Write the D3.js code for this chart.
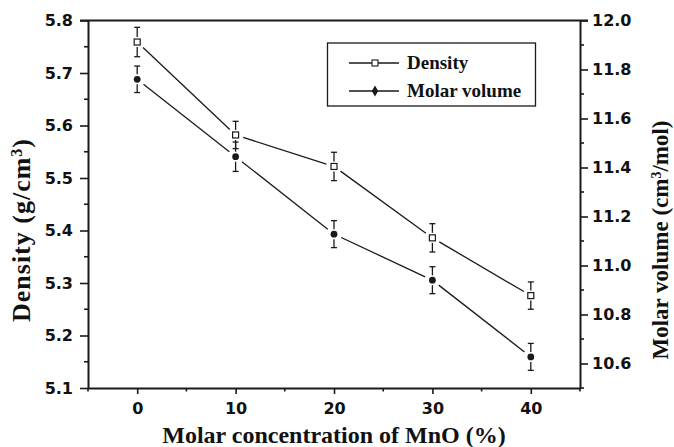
<!DOCTYPE html>
<html>
<head>
<meta charset="utf-8">
<script src="https://cdn.jsdelivr.net/npm/d3@7"></script>
<style>
  html, body { margin: 0; padding: 0; background: #fff; }
  svg { display: block; }
  .tick-label { font-family: "DejaVu Sans", Verdana, sans-serif; font-weight: bold; font-size: 16px; fill: #111; }
  .axis-title { font-family: "Liberation Serif", "Times New Roman", serif; font-weight: bold; font-size: 24px; fill: #111; }
  .legend-text { font-family: "Liberation Serif", "Times New Roman", serif; font-weight: bold; font-size: 19px; fill: #111; }
</style>
</head>
<body>
<svg id="chart" width="674" height="447"></svg>
<script>
// MnO content of the glass series (mol %)
const mnoContent = [0, 10, 20, 30, 40];
// Density (g/cm3) with its uncertainty
const density = [5.759, 5.582, 5.522, 5.386, 5.276];
const densityErr = [0.028, 0.026, 0.027, 0.027, 0.026];
// Molar volume (cm3/mol) with its uncertainty
const molarVolume = [11.76, 11.444, 11.128, 10.94, 10.627];
const molarVolumeErr = [0.054, 0.06, 0.055, 0.055, 0.055];

const xTicks = [0, 10, 20, 30, 40];
const xMinorTicks = [-5, 5, 15, 25, 35, 45];
const leftTicks = [5.1, 5.2, 5.3, 5.4, 5.5, 5.6, 5.7, 5.8];
const leftMinorTicks = [5.15, 5.25, 5.35, 5.45, 5.55, 5.65, 5.75];
const rightTicks = [10.6, 10.8, 11.0, 11.2, 11.4, 11.6, 11.8, 12.0];
const rightMinorTicks = [10.5, 10.7, 10.9, 11.1, 11.3, 11.5, 11.7, 11.9];

const svg = d3.select("#chart");
const plotL = 88, plotR = 580, plotT = 20.5, plotB = 388;

const x = d3.scaleLinear().domain([-5, 45]).range([plotL, plotR]);
const yL = d3.scaleLinear().domain([5.1, 5.8]).range([plotB, plotT]);
const yR = d3.scaleLinear().domain([10.5, 12.0]).range([plotB, plotT]);

const ink = "#1a1a1a";

// Axes
function styleAxis(g) {
  g.selectAll("path.domain").attr("stroke", ink).attr("stroke-width", 2);
  g.selectAll(".tick line").attr("stroke", ink).attr("stroke-width", 1.6);
  g.selectAll(".tick text").attr("class", "tick-label").attr("fill", null);
}

const gx = svg.append("g").attr("transform", `translate(0,${plotB})`)
  .call(d3.axisBottom(x).tickValues(xTicks).tickSize(6).tickPadding(9).tickSizeOuter(0).tickFormat(d3.format("d")));
styleAxis(gx);
gx.append("g").selectAll("line").data(xMinorTicks).join("line")
  .attr("x1", d => x(d)).attr("x2", d => x(d)).attr("y1", 0).attr("y2", 3.5)
  .attr("stroke", ink).attr("stroke-width", 1.6);

const gl = svg.append("g").attr("transform", `translate(${plotL},0)`)
  .call(d3.axisLeft(yL).tickValues(leftTicks).tickSize(8).tickPadding(7).tickSizeOuter(0).tickFormat(d3.format(".1f")));
styleAxis(gl);
gl.append("g").selectAll("line").data(leftMinorTicks).join("line")
  .attr("x1", 0).attr("x2", -4).attr("y1", d => yL(d)).attr("y2", d => yL(d))
  .attr("stroke", ink).attr("stroke-width", 1.6);

const gr = svg.append("g").attr("transform", `translate(${plotR},0)`)
  .call(d3.axisRight(yR).tickValues(rightTicks).tickSize(8).tickPadding(4).tickSizeOuter(0).tickFormat(d3.format(".1f")));
styleAxis(gr);
gr.append("g").selectAll("line").data(rightMinorTicks).join("line")
  .attr("x1", 0).attr("x2", 4).attr("y1", d => yR(d)).attr("y2", d => yR(d))
  .attr("stroke", ink).attr("stroke-width", 1.6);

// top frame line
svg.append("line").attr("x1", plotL - 8).attr("x2", plotR + 8).attr("y1", plotT).attr("y2", plotT)
  .attr("stroke", ink).attr("stroke-width", 2);

// Axis titles
svg.append("text").attr("class", "axis-title")
  .attr("x", (plotL + plotR) / 2).attr("y", 443).attr("text-anchor", "middle")
  .text("Molar concentration of MnO (%)");

const lt = svg.append("text").attr("class", "axis-title")
  .attr("transform", "translate(30,230) rotate(-90)").attr("text-anchor", "middle")
  .style("font-size", "26px").style("letter-spacing", "1px");
lt.append("tspan").text("Density (g/cm");
lt.append("tspan").attr("baseline-shift", "super").attr("font-size", "16px").text("3");
lt.append("tspan").text(")");

const rt = svg.append("text").attr("class", "axis-title")
  .attr("transform", "translate(668,240) rotate(-90)").attr("text-anchor", "middle")
  .style("font-size", "23px");
rt.append("tspan").text("Molar volume (cm");
rt.append("tspan").attr("baseline-shift", "super").attr("font-size", "14px").text("3");
rt.append("tspan").text("/mol)");

// Series: connecting segments stop short of the markers
function drawSeries(vals, errs, y, filled) {
  const pts = mnoContent.map((m, i) => ({ px: x(m), py: y(vals[i]), e: errs[i], v: vals[i] }));
  const gap = 8;
  const g = svg.append("g");
  for (let i = 0; i < pts.length - 1; i++) {
    const a = pts[i], b = pts[i + 1];
    const dx = b.px - a.px, dy = b.py - a.py, len = Math.hypot(dx, dy);
    const ux = dx / len, uy = dy / len;
    g.append("line")
      .attr("x1", a.px + ux * gap).attr("y1", a.py + uy * gap)
      .attr("x2", b.px - ux * gap).attr("y2", b.py - uy * gap)
      .attr("stroke", ink).attr("stroke-width", 1.3);
  }
  const cap = 3;
  pts.forEach(p => {
    const yTop = y(p.v + p.e), yBot = y(p.v - p.e);
    const off = 5;
    g.append("line").attr("x1", p.px).attr("x2", p.px).attr("y1", yTop).attr("y2", p.py - off)
      .attr("stroke", ink).attr("stroke-width", 1.3);
    g.append("line").attr("x1", p.px).attr("x2", p.px).attr("y1", p.py + off).attr("y2", yBot)
      .attr("stroke", ink).attr("stroke-width", 1.3);
    [yTop, yBot].forEach(yy => g.append("line")
      .attr("x1", p.px - cap).attr("x2", p.px + cap).attr("y1", yy).attr("y2", yy)
      .attr("stroke", ink).attr("stroke-width", 1.3));
    if (filled) {
      g.append("circle").attr("cx", p.px).attr("cy", p.py).attr("r", 3.4).attr("fill", ink);
    } else {
      g.append("rect").attr("x", p.px - 3).attr("y", p.py - 3).attr("width", 6).attr("height", 6)
        .attr("fill", "#fff").attr("stroke", ink).attr("stroke-width", 1.2);
    }
  });
}
drawSeries(density, densityErr, yL, false);
drawSeries(molarVolume, molarVolumeErr, yR, true);

// Legend
const lg = svg.append("g");
lg.append("rect").attr("x", 327.5).attr("y", 43).attr("width", 208).attr("height", 63)
  .attr("fill", "#fff").attr("stroke", ink).attr("stroke-width", 1.3);
const legendItems = [{ name: "Density", filled: false, y: 63 }, { name: "Molar volume", filled: true, y: 91 }];
legendItems.forEach(it => {
  lg.append("line").attr("x1", 349).attr("x2", 399).attr("y1", it.y).attr("y2", it.y)
    .attr("stroke", ink).attr("stroke-width", 1.3);
  if (it.filled) {
    lg.append("path").attr("d", d3.symbol(d3.symbolDiamond, 36)()).attr("transform", `translate(375,${it.y})`).attr("fill", ink);
  } else {
    lg.append("rect").attr("x", 372).attr("y", it.y - 3).attr("width", 6).attr("height", 6)
      .attr("fill", "#fff").attr("stroke", ink).attr("stroke-width", 1.1);
  }
  lg.append("text").attr("class", "legend-text").attr("x", 407).attr("y", it.y + 6).text(it.name);
});
</script>
</body>
</html>
